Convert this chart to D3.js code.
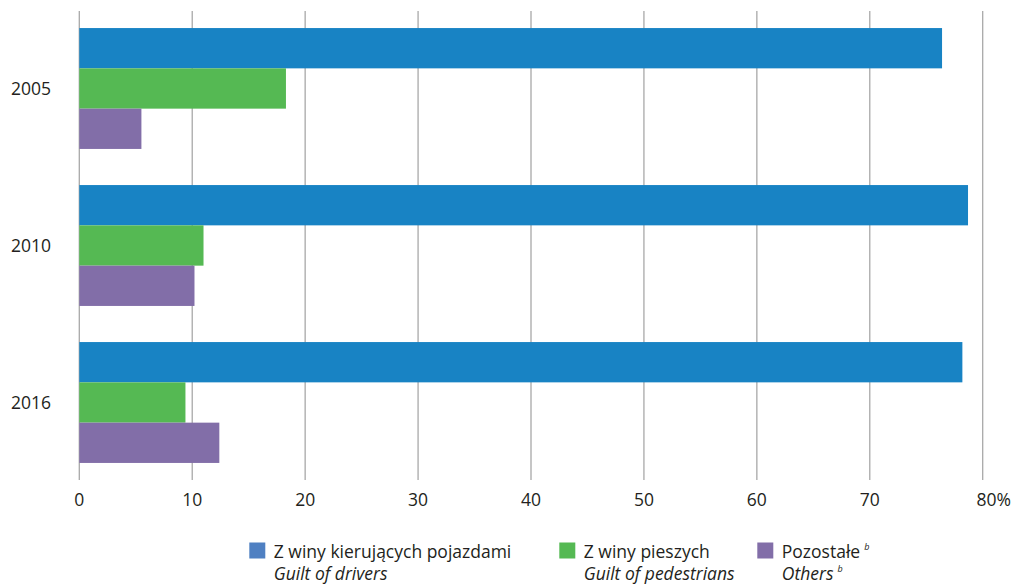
<!DOCTYPE html>
<html><head><meta charset="utf-8">
<script src="https://cdn.jsdelivr.net/npm/d3@7"></script>
<style>body{margin:0;background:#fff;} text{font-family:"Open Sans","Noto Sans",sans-serif;fill:#231f20;}</style>
</head><body>
<svg id="chart" width="1011" height="585"></svg>
<script>
const years = ["2005", "2010", "2016"];
const seriesKeys = ["drivers", "pedestrians", "others"];
const drivers = [76.4, 78.7, 78.2];
const pedestrians = [18.3, 11.0, 9.4];
const others = [5.5, 10.2, 12.4];
const xTicks = [0, 10, 20, 30, 40, 50, 60, 70, 80];
const legendPl = ["Z winy kierujących pojazdami", "Z winy pieszych", "Pozostałe"];
const legendEn = ["Guilt of drivers", "Guilt of pedestrians", "Others"];
const legendSup = [false, false, true];

const barColors = ["#1883c4", "#55b953", "#826ea8"];
const legendColors = ["#4f80c2", "#55b953", "#826ea8"];
const values = [drivers, pedestrians, others];

const svg = d3.select("#chart");
const x = d3.scaleLinear().domain([0, 80]).range([79.3, 982.7]);
const y = d3.scaleBand().domain(years).range([11, 482]).paddingInner(0).paddingOuter(0);
const inner = d3.scaleBand().domain(seriesKeys).range([0, y.bandwidth()]).paddingOuter(0.448).paddingInner(0);

// grid
svg.append("g").selectAll("line").data(xTicks).join("line")
  .attr("x1", d => x(d)).attr("x2", d => x(d))
  .attr("y1", 11).attr("y2", 480)
  .attr("stroke", "#a8a8a8").attr("stroke-width", 1.3);

// bars
years.forEach((yr, i) => {
  const g = svg.append("g");
  g.selectAll("rect").data(seriesKeys).join("rect")
    .attr("x", x(0))
    .attr("y", k => y(yr) + inner(k) - 1)
    .attr("height", inner.bandwidth())
    .attr("width", (k, j) => x(values[j][i]) - x(0))
    .attr("fill", (k, j) => barColors[j]);
});

// x tick labels
svg.append("g").selectAll("text").data(xTicks).join("text")
  .attr("x", d => x(d) + (d === 80 ? 11 : 0)).attr("y", 506)
  .attr("text-anchor", "middle").attr("font-size", 17.5)
  .text(d => d === 80 ? "80%" : d);

// year labels
svg.append("g").selectAll("text").data(years).join("text")
  .attr("x", 51).attr("y", d => y(d) + inner("pedestrians") + inner.bandwidth() / 2 - 1)
  .attr("dy", "0.35em")
  .attr("text-anchor", "end").attr("font-size", 17.5)
  .text(d => d);

// legend
const lx = [249.3, 559.3, 757.3];
const lg = svg.append("g").selectAll("g").data(legendPl).join("g")
  .attr("transform", (d, i) => `translate(${lx[i]},0)`);
lg.append("rect").attr("x", 0).attr("y", 542.5).attr("width", 16).attr("height", 16)
  .attr("fill", (d, i) => legendColors[i]);
const t1 = lg.append("text").attr("x", 24.5).attr("y", 557.5).attr("font-size", 17.5);
t1.append("tspan").text(d => d);
t1.filter((d, i) => legendSup[i]).append("tspan").attr("dx", 4).attr("dy", -8)
  .attr("font-size", 9).attr("font-style", "italic").text("b");
const t2 = lg.append("text").attr("x", 24.5).attr("y", 580).attr("font-size", 17.5).attr("font-style", "italic");
t2.append("tspan").text((d, i) => legendEn[i]);
t2.filter((d, i) => legendSup[i]).append("tspan").attr("dx", 4).attr("dy", -8)
  .attr("font-size", 9).text("b");
</script>
</body></html>
